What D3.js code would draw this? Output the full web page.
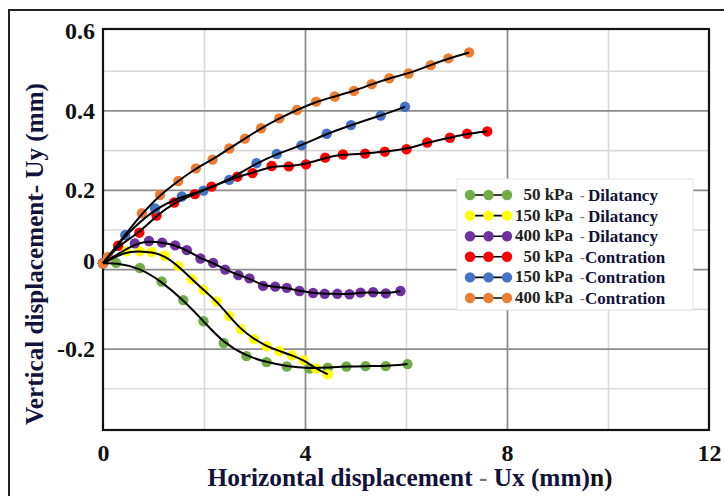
<!DOCTYPE html>
<html>
<head>
<meta charset="utf-8">
<script src="https://cdn.jsdelivr.net/npm/d3@7"></script>
<style>
  body { margin: 0; background: #fff; }
  svg text { font-family: "Liberation Serif", "Tinos", "Times New Roman", "DejaVu Serif", "Noto Serif", serif !important; font-weight: bold; }
</style>
</head>
<body>
<script>
// series data: horizontal Ux (mm) and vertical Uy (mm)
const dil50X = [0, 0.26, 0.73, 1.16, 1.59, 1.99, 2.39, 2.84, 3.24, 3.64, 4.09, 4.45, 4.82, 5.20, 5.60, 6.03];
const dil50Y = [0.015, 0.016, 0.003, -0.031, -0.078, -0.131, -0.186, -0.219, -0.234, -0.245, -0.250, -0.248, -0.245, -0.244, -0.244, -0.239];

const dil150X = [0, 0.46, 0.73, 0.96, 1.22, 1.49, 1.76, 1.99, 2.25, 2.50, 2.73, 2.99, 3.24, 3.49, 3.74, 3.97, 4.22, 4.45];
const dil150Y = [0.015, 0.045, 0.045, 0.043, 0.034, 0.008, -0.025, -0.052, -0.081, -0.118, -0.151, -0.176, -0.194, -0.206, -0.217, -0.229, -0.250, -0.265];

const dil400X = [0, 0.63, 0.91, 1.17, 1.43, 1.66, 1.93, 2.18, 2.42, 2.68, 2.90, 3.17, 3.41, 3.64, 3.89, 4.16, 4.39, 4.64, 4.88, 5.10, 5.35, 5.60, 5.89];
const dil400Y = [0.015, 0.065, 0.071, 0.067, 0.060, 0.048, 0.027, 0.016, -0.001, -0.015, -0.023, -0.042, -0.044, -0.047, -0.055, -0.060, -0.062, -0.062, -0.063, -0.059, -0.058, -0.061, -0.055];

const con50X = [0, 0.30, 0.72, 1.06, 1.41, 1.82, 2.15, 2.66, 2.96, 3.34, 3.68, 4.02, 4.40, 4.75, 5.19, 5.58, 6.01, 6.42, 6.87, 7.21, 7.61];
const con50Y = [0.015, 0.059, 0.092, 0.135, 0.168, 0.189, 0.208, 0.233, 0.242, 0.260, 0.259, 0.264, 0.281, 0.289, 0.291, 0.296, 0.302, 0.319, 0.331, 0.341, 0.347];

const con150X = [0, 0.44, 1.03, 1.56, 1.99, 2.50, 3.04, 3.44, 3.93, 4.43, 4.91, 5.50, 5.98];
const con150Y = [0.015, 0.086, 0.153, 0.183, 0.198, 0.225, 0.267, 0.290, 0.312, 0.341, 0.363, 0.387, 0.409];

const con400X = [0, 0.10, 0.77, 1.13, 1.49, 1.84, 2.17, 2.50, 2.81, 3.13, 3.49, 3.84, 4.22, 4.59, 4.97, 5.32, 5.67, 6.05, 6.49, 6.84, 7.25];
const con400Y = [0.015, 0.031, 0.141, 0.187, 0.222, 0.254, 0.276, 0.304, 0.329, 0.355, 0.380, 0.401, 0.422, 0.435, 0.449, 0.466, 0.481, 0.493, 0.514, 0.531, 0.546];

const pressureLabels = ["50 kPa", "150 kPa", "400 kPa", "50 kPa", "150 kPa", "400 kPa"];
const behaviourLabels = ["Dilatancy", "Dilatancy", "Dilatancy", "Contration", "Contration", "Contration"];
const seriesColors = ["#70ad47", "#ffff00", "#7030a0", "#ff0000", "#4472c4", "#ed7d31"];

const xTicks = [0, 4, 8, 12];
const yTicks = [-0.2, 0, 0.2, 0.4, 0.6];
const xGridMinor = [2, 6, 10];
const xGridMajor = [4, 8];
const yGridMinor = [-0.3, -0.1, 0.1, 0.3, 0.5];
const yGridMajor = [-0.2, 0, 0.2, 0.4];

const series = [
  [dil50X, dil50Y], [dil150X, dil150Y], [dil400X, dil400Y],
  [con50X, con50Y], [con150X, con150Y], [con400X, con400Y]
].map(([xs, ys], i) => ({
  color: seriesColors[i],
  pressure: pressureLabels[i],
  behaviour: behaviourLabels[i],
  points: xs.map((x, j) => ({ x: x, y: ys[j] }))
}));

const width = 724, height = 496;
const plot = { left: 103, right: 709, top: 29, bottom: 430 };
const navy = "#12123a";

const svg = d3.select("body").append("svg")
  .attr("width", width)
  .attr("height", height);

svg.append("rect").attr("width", width).attr("height", height).attr("fill", "#fff");

// outer frame of the figure
svg.append("rect")
  .attr("x", 9).attr("y", 10)
  .attr("width", 740).attr("height", 520)
  .attr("fill", "none").attr("stroke", "#222").attr("stroke-width", 2);

const x = d3.scaleLinear().domain([0, 12]).range([plot.left, plot.right]);
const y = d3.scaleLinear().domain([-0.405, 0.605]).range([plot.bottom, plot.top]);
const plotW = plot.right - plot.left, plotH = plot.bottom - plot.top;

// gridlines
function grid(axis, vals, size, translate, color, w) {
  const g = svg.append("g")
    .attr("transform", translate)
    .call(axis.tickValues(vals).tickSize(size).tickFormat(""));
  g.select(".domain").remove();
  g.selectAll("line").attr("stroke", color).attr("stroke-width", w);
}
grid(d3.axisBottom(x), xGridMinor, -plotH, `translate(0,${plot.bottom})`, "#d9d9d9", 1.6);
grid(d3.axisLeft(y), yGridMinor, -plotW, `translate(${plot.left},0)`, "#d9d9d9", 1.6);
grid(d3.axisBottom(x), xGridMajor, -plotH, `translate(0,${plot.bottom})`, "#8c8c8c", 1.8);
grid(d3.axisLeft(y), yGridMajor, -plotW, `translate(${plot.left},0)`, "#8c8c8c", 1.8);

// plot border
svg.append("rect")
  .attr("x", plot.left).attr("y", plot.top)
  .attr("width", plotW).attr("height", plotH)
  .attr("fill", "none").attr("stroke", "#111").attr("stroke-width", 2.2);

// tick labels
const xAxis = svg.append("g").attr("transform", `translate(0,${plot.bottom})`)
  .call(d3.axisBottom(x).tickValues(xTicks).tickSize(0).tickPadding(14).tickFormat(d3.format("d")));
const yAxis = svg.append("g").attr("transform", `translate(${plot.left},0)`)
  .call(d3.axisLeft(y).tickValues(yTicks).tickSize(0).tickPadding(8)
    .tickFormat(d => d === 0 ? "0" : d.toFixed(1)));
[xAxis, yAxis].forEach(g => {
  g.select(".domain").remove();
  g.selectAll("text")
    .attr("font-size", 24)
    .attr("fill", "#111");
});
yAxis.selectAll(".tick").filter(d => d === 0).select("text").attr("dy", "-0.05em");

// axis titles
const xTitle = svg.append("text")
  .attr("x", 410).attr("y", 486)
  .attr("text-anchor", "middle")
  .attr("font-size", 25)
  .attr("textLength", 405).attr("lengthAdjust", "spacingAndGlyphs")
  .attr("fill", navy);
xTitle.append("tspan").text("Horizontal displacement ");
xTitle.append("tspan").attr("fill", "#777").text("-");
xTitle.append("tspan").text(" Ux (mm)");
xTitle.append("tspan").attr("fill", "#111").text("n)");

svg.append("text")
  .attr("transform", "translate(43,254) rotate(-90)")
  .attr("text-anchor", "middle")
  .attr("font-size", 25)
  .attr("textLength", 342).attr("lengthAdjust", "spacingAndGlyphs")
  .attr("fill", navy)
  .text("Vertical displacement- Uy (mm)");

// markers then fitted black curves
const line = d3.line().x(d => x(d.x)).y(d => y(d.y)).curve(d3.curveBasis);

series.forEach(s => {
  svg.append("g").selectAll("circle")
    .data(s.points)
    .join("circle")
    .attr("cx", d => x(d.x))
    .attr("cy", d => y(d.y))
    .attr("r", 5.2)
    .attr("fill", s.color);
});
series.forEach(s => {
  svg.append("path")
    .datum(s.points)
    .attr("d", line)
    .attr("fill", "none")
    .attr("stroke", "#000")
    .attr("stroke-width", 2);
});

// legend
const legendX = 457, legendY = 179, rowStart = 195, rowStep = 20.6;
const legend = svg.append("g").attr("id", "legend");
legend.append("rect")
  .attr("x", legendX).attr("y", legendY)
  .attr("width", 236).attr("height", 131)
  .attr("fill", "#fff").attr("stroke", "#e4e4e4");

const rows = legend.selectAll("g.row")
  .data(series)
  .join("g")
  .attr("class", "row")
  .attr("transform", (d, i) => `translate(0,${rowStart + i * rowStep})`);

rows.append("line")
  .attr("x1", 470).attr("x2", 507)
  .attr("stroke", "#000").attr("stroke-width", 1.6);
rows.selectAll("circle")
  .data(d => [470, 488.5, 507].map(cx => ({ cx: cx, color: d.color })))
  .join("circle")
  .attr("cx", d => d.cx).attr("cy", 0).attr("r", 5.2)
  .attr("fill", d => d.color);
rows.append("text")
  .attr("x", 573).attr("y", 5)
  .attr("text-anchor", "end")
  .attr("font-size", 17)
  .attr("fill", "#222")
  .text(d => d.pressure);
rows.append("text")
  .attr("x", 580).attr("y", 5)
  .attr("font-size", 14)
  .attr("fill", "#777")
  .text("-");
rows.append("text")
  .attr("x", d => d.behaviour === "Dilatancy" ? 588 : 585).attr("y", 6)
  .attr("font-size", 17)
  .attr("fill", navy)
  .text(d => d.behaviour);
</script>
</body>
</html>
